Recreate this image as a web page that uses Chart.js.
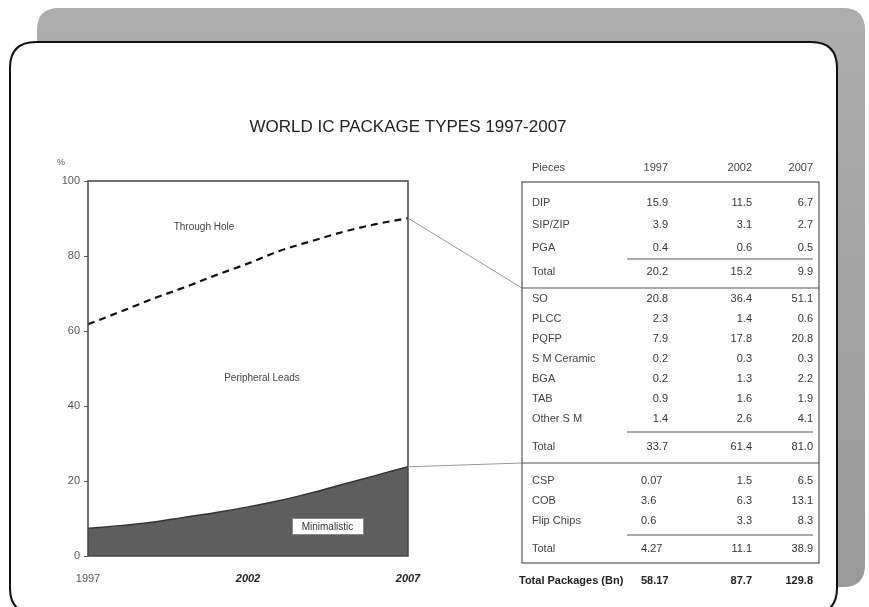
<!DOCTYPE html>
<html>
<head>
<meta charset="utf-8">
<title>World IC Package Types 1997-2007</title>
<script src="https://cdn.jsdelivr.net/npm/chart.js@4.4.1/dist/chart.umd.min.js"></script>
<style>
  html, body { margin: 0; padding: 0; background: #fff; }
  canvas { display: block; }
</style>
</head>
<body>
<canvas id="myChart" width="869" height="607"></canvas>
<script>
// share of packages (%) per year
var years = [1997, 1998, 1999, 2000, 2001, 2002, 2003, 2004, 2005, 2006, 2007];
var tickYears = [1997, 2002, 2007];
var peripheralTop = [61.8, 65.1, 68.5, 71.6, 74.9, 78.0, 81.4, 84.0, 86.5, 88.5, 90.1];
var minimalistic = [7.4, 8.1, 9.0, 10.3, 11.6, 13.1, 14.8, 16.9, 19.2, 21.5, 23.8];

// pieces table (billions)
var tableYears = ['1997', '2002', '2007'];
var throughHoleRows = ['DIP', 'SIP/ZIP', 'PGA'];
var throughHoleValues = [[15.9, 11.5, 6.7], [3.9, 3.1, 2.7], [0.4, 0.6, 0.5]];
var throughHoleTotal = [20.2, 15.2, 9.9];
var surfaceRows = ['SO', 'PLCC', 'PQFP', 'S M Ceramic', 'BGA', 'TAB', 'Other S M'];
var surfaceValues = [[20.8, 36.4, 51.1], [2.3, 1.4, 0.6], [7.9, 17.8, 20.8], [0.2, 0.3, 0.3],
                     [0.2, 1.3, 2.2], [0.9, 1.6, 1.9], [1.4, 2.6, 4.1]];
var surfaceTotal = [33.7, 61.4, 81.0];
var minimalRows = ['CSP', 'COB', 'Flip Chips'];
var minimalValues = [[0.07, 1.5, 6.5], [3.6, 6.3, 13.1], [0.6, 3.3, 8.3]];
var minimalTotal = [4.27, 11.1, 38.9];
var packagesTotal = [58.17, 87.7, 129.8];

var FONT = '"Liberation Sans", Arial, sans-serif';

function fmt(v) {
    return Math.round(v * 10) === v * 10 ? v.toFixed(1) : String(v);
}

function roundRect(ctx, x, y, w, h, r) {
    ctx.beginPath();
    ctx.moveTo(x + r, y);
    ctx.lineTo(x + w - r, y);
    ctx.quadraticCurveTo(x + w, y, x + w, y + r);
    ctx.lineTo(x + w, y + h - r);
    ctx.quadraticCurveTo(x + w, y + h, x + w - r, y + h);
    ctx.lineTo(x + r, y + h);
    ctx.quadraticCurveTo(x, y + h, x, y + h - r);
    ctx.lineTo(x, y + r);
    ctx.quadraticCurveTo(x, y, x + r, y);
    ctx.closePath();
}

// grey shadow frame + white card behind the chart
var framePlugin = {
    id: 'frame',
    beforeDraw: function(chart) {
        var ctx = chart.ctx;
        ctx.save();
        ctx.fillStyle = '#fff';
        ctx.fillRect(0, 0, chart.width, chart.height);
        var g = ctx.createLinearGradient(0, 8, 0, 587);
        g.addColorStop(0, '#adadad');
        g.addColorStop(1, '#9a9a9a');
        ctx.fillStyle = g;
        roundRect(ctx, 37, 8, 828, 579, 22);
        ctx.fill();
        ctx.fillStyle = '#fff';
        ctx.strokeStyle = '#111';
        ctx.lineWidth = 2;
        roundRect(ctx, 10, 42, 827, 572, 26);
        ctx.fill();
        ctx.stroke();

        ctx.fillStyle = '#222';
        ctx.font = '17px ' + FONT;
        ctx.textAlign = 'center';
        ctx.textBaseline = 'middle';
        ctx.fillText('WORLD IC PACKAGE TYPES 1997-2007', 408, 127);

        ctx.fillStyle = '#555';
        ctx.font = '9px ' + FONT;
        ctx.fillText('%', 61, 163);
        ctx.restore();
    }
};

// plot box, area labels, table and the connector lines
var tablePlugin = {
    id: 'pieces',
    afterDatasetsDraw: function(chart) {
        var ctx = chart.ctx;
        var area = chart.chartArea;
        var x = chart.scales.x, y = chart.scales.y;
        ctx.save();

        ctx.strokeStyle = '#444';
        ctx.lineWidth = 1.5;
        ctx.strokeRect(area.left, area.top, area.right - area.left, area.bottom - area.top);

        ctx.fillStyle = '#444';
        ctx.font = '10px ' + FONT;
        ctx.textAlign = 'center';
        ctx.textBaseline = 'middle';
        ctx.fillText('Through Hole', 204, 227);
        ctx.fillText('Peripheral Leads', 262, 378);

        ctx.fillStyle = '#fff';
        ctx.fillRect(292, 518, 71, 16);
        ctx.strokeStyle = '#888';
        ctx.lineWidth = 1;
        ctx.strokeRect(292.5, 518.5, 71, 16);
        ctx.fillStyle = '#333';
        ctx.fillText('Minimalistic', 327.5, 527);

        var tLeft = 522, tRight = 819, tTop = 182, tBottom = 563;
        var sep1 = 288, sep2 = 463;
        var last = years.length - 1;

        // connectors from the 2007 points to the table
        ctx.strokeStyle = '#999';
        ctx.lineWidth = 1;
        ctx.beginPath();
        ctx.moveTo(x.getPixelForValue(last), y.getPixelForValue(peripheralTop[last]));
        ctx.lineTo(tLeft, sep1);
        ctx.moveTo(x.getPixelForValue(last), y.getPixelForValue(minimalistic[last]));
        ctx.lineTo(tLeft, sep2);
        ctx.stroke();

        ctx.strokeStyle = '#555';
        ctx.lineWidth = 1.2;
        ctx.strokeRect(tLeft, tTop, tRight - tLeft, tBottom - tTop);
        ctx.beginPath();
        ctx.moveTo(tLeft, sep1); ctx.lineTo(tRight, sep1);
        ctx.moveTo(tLeft, sep2); ctx.lineTo(tRight, sep2);
        [259, 432, 535].forEach(function(ly) {
            ctx.moveTo(627, ly); ctx.lineTo(813, ly);
        });
        ctx.stroke();

        var labelX = 532;
        var colRight = [668, 752, 813];
        ctx.font = '11px ' + FONT;
        ctx.textBaseline = 'middle';

        function row(label, vals, ry, leftFirst) {
            ctx.fillStyle = '#444';
            ctx.textAlign = 'left';
            ctx.fillText(label, labelX, ry);
            ctx.fillStyle = '#333';
            vals.forEach(function(v, i) {
                if (i === 0 && leftFirst) {
                    ctx.textAlign = 'left';
                    ctx.fillText(fmt(v), 641, ry);
                } else {
                    ctx.textAlign = 'right';
                    ctx.fillText(fmt(v), colRight[i], ry);
                }
            });
        }

        ctx.fillStyle = '#444';
        ctx.textAlign = 'left';
        ctx.fillText('Pieces', labelX, 168);
        ctx.textAlign = 'right';
        tableYears.forEach(function(t, i) { ctx.fillText(t, colRight[i], 168); });

        [203, 225, 248].forEach(function(ry, i) { row(throughHoleRows[i], throughHoleValues[i], ry); });
        row('Total', throughHoleTotal, 272);
        surfaceRows.forEach(function(r, i) { row(r, surfaceValues[i], 299 + i * 20); });
        row('Total', surfaceTotal, 447);
        [481, 501, 521].forEach(function(ry, i) { row(minimalRows[i], minimalValues[i], ry, true); });
        row('Total', minimalTotal, 549, true);

        ctx.font = 'bold 11px ' + FONT;
        ctx.fillStyle = '#222';
        ctx.textAlign = 'left';
        ctx.fillText('Total Packages (Bn)', 519, 581);
        packagesTotal.forEach(function(v, i) {
            if (i === 0) {
                ctx.textAlign = 'left';
                ctx.fillText(fmt(v), 641, 581);
            } else {
                ctx.textAlign = 'right';
                ctx.fillText(fmt(v), colRight[i], 581);
            }
        });
        ctx.restore();
    }
};

var ctx = document.getElementById('myChart').getContext('2d');

var config = {
    type: 'line',
    data: {
        labels: years,
        datasets: [{
            label: 'Minimalistic',
            data: minimalistic,
            fill: 'origin',
            backgroundColor: '#5e5e5e',
            borderColor: '#333',
            borderWidth: 1.5,
            pointRadius: 0,
            cubicInterpolationMode: 'monotone'
        }, {
            label: 'Peripheral Leads',
            data: peripheralTop,
            fill: false,
            borderColor: '#111',
            borderWidth: 2.2,
            borderDash: [7, 5],
            pointRadius: 0,
            cubicInterpolationMode: 'monotone'
        }]
    },
    options: {
        responsive: false,
        animation: false,
        events: [],
        layout: { padding: { left: 48, right: 461, top: 181, bottom: 11 } },
        plugins: {
            legend: { display: false },
            title: { display: false },
            tooltip: { enabled: false }
        },
        scales: {
            x: {
                grid: { display: false },
                border: { display: false },
                afterFit: function(s) { s.height = 40; },
                ticks: {
                    autoSkip: false,
                    maxRotation: 0,
                    padding: 8,
                    color: function(c) { return c.index === 0 ? '#555' : '#222'; },
                    font: function(c) {
                        return c.index === 0 ? { family: FONT, size: 11 }
                                             : { family: FONT, size: 11, style: 'italic', weight: 'bold' };
                    },
                    callback: function(val) {
                        var yr = years[val];
                        return tickYears.indexOf(yr) >= 0 ? String(yr) : '';
                    }
                }
            },
            y: {
                min: 0,
                max: 100,
                afterFit: function(s) { s.width = 40; },
                grid: { drawOnChartArea: false, tickLength: 4, color: '#555' },
                border: { display: false },
                ticks: { stepSize: 20, padding: 4, color: '#555', font: { family: FONT, size: 11 } }
            }
        }
    },
    plugins: [framePlugin, tablePlugin]
};

var myChart = new Chart(ctx, config);
</script>
</body>
</html>
